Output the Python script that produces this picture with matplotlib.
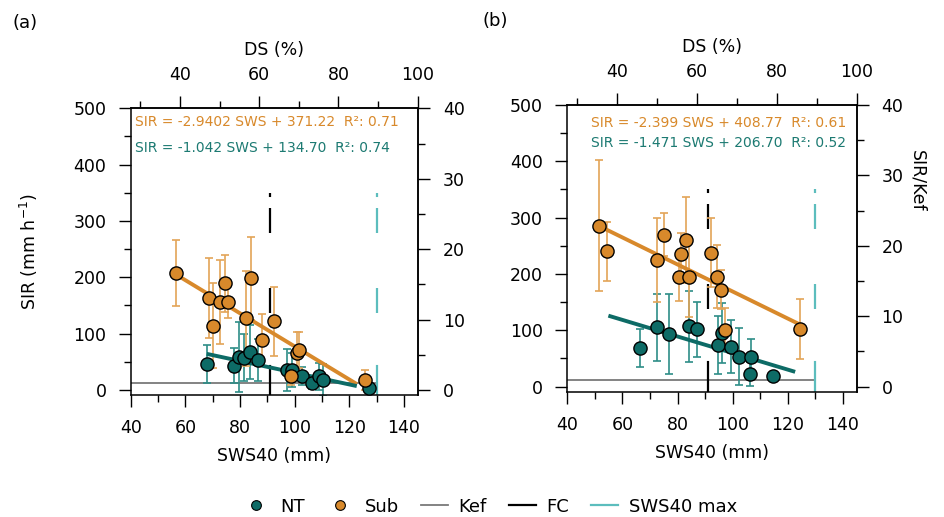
import matplotlib
matplotlib.use('Agg')
import matplotlib.pyplot as plt
from matplotlib.lines import Line2D
from matplotlib.ticker import MultipleLocator, FixedLocator

plt.rcParams['font.family'] = ['DejaVu Sans']
plt.rcParams['lines.scale_dashes'] = False

# ---- data ----
# panel (a)
a_sub_x = [56.5, 68.8, 70.2, 72.6, 74.6, 75.7, 82.1, 84.1, 87.9, 92.4, 100.7, 101.7, 98.7, 125.7]
a_sub_y = [208, 164, 114, 156, 189, 156, 127, 198, 89, 122, 65, 71, 24, 17]
a_sub_e = [59, 71, 75, 75, 50, 28, 85, 73, 46, 61, 38, 32, 15, 18]
a_nt_x = [67.8, 77.8, 79.7, 81.6, 83.6, 86.6, 97.0, 98.9, 102.6, 106.2, 109.0, 110.5, 127.3]
a_nt_y = [46, 43, 59, 57, 68, 53, 35, 35, 24, 12, 24, 18, 3]
a_nt_e = [34, 31, 62, 42, 48, 38, 37, 30, 16, 10, 24, 28, 0]
# panel (b)
b_sub_x = [51.5, 54.3, 72.6, 75.2, 80.7, 81.2, 83.2, 84.1, 92.2, 94.2, 95.8, 97.3, 124.5]
b_sub_y = [286, 240, 225, 270, 194, 236, 260, 194, 238, 195, 172, 101, 102]
b_sub_e = [116, 53, 74, 38, 42, 36, 76, 70, 61, 56, 35, 38, 53]
b_nt_x = [66.4, 72.6, 77.0, 84.2, 87.0, 94.6, 96.1, 99.4, 102.2, 106.6, 106.3, 114.6]
b_nt_y = [68, 105, 93, 107, 102, 74, 95, 71, 53, 52, 22, 19]
b_nt_e = [34, 59, 71, 63, 49, 52, 53, 47, 51, 32, 21, 0]

# fits: slope, intercept, r2, x range of the drawn line
a_fit_sub = (-2.9402, 371.22, 0.71, 56.5, 122.7)
a_fit_nt = (-1.042, 134.70, 0.74, 67.8, 122.7)
b_fit_sub = (-2.399, 408.77, 0.61, 51.5, 124.7)
b_fit_nt = (-1.471, 206.70, 0.52, 54.9, 122.7)

ds_ticks = [40, 60, 80, 100]
ds_minor = [30, 50, 70, 90]

KEF = 12.5
FC = 91
SWS_MAX = 130
DS_REF = 145.0
VLINE_TOP = 350

c_sub = '#d8892b'
c_sub_err = '#e3a458'
c_nt = '#0d6b66'
c_nt_err = '#2e8d87'
c_max = '#5cbdbd'
c_kef = '#7a7a7a'

fig = plt.figure(figsize=(9.44, 5.17), dpi=100)
ax_a = fig.add_axes([0.1385, 0.236, 0.304, 0.5545])
ax_b = fig.add_axes([0.601, 0.2424, 0.3064, 0.5545])

vdash = [2.9, 7.9, 18, 39.6, 18, 37.4, 30, 60]


def fmt_eq(fit, slope_txt):
    return 'SIR = %s SWS + %.2f  R\u00b2: %.2f' % (slope_txt, fit[1], fit[2])


def draw_panel(ax, sub_x, sub_y, sub_e, nt_x, nt_y, nt_e, fsub, fnt, s_sub, s_nt, txt_x, txt_ha, txt_y):
    ax.errorbar(nt_x, nt_y, yerr=nt_e, fmt='none', ecolor=c_nt_err, elinewidth=1.2,
                capsize=3, capthick=1.2, zorder=2)
    ax.errorbar(sub_x, sub_y, yerr=sub_e, fmt='none', ecolor=c_sub_err, elinewidth=1.2,
                capsize=3, capthick=1.2, zorder=2)
    for f, c in ((fsub, c_sub), (fnt, c_nt)):
        xs = [f[3], f[4]]
        ax.plot(xs, [f[0] * v + f[1] for v in xs], color=c, lw=2.8, zorder=3,
                solid_capstyle='butt')
    ax.plot(nt_x, nt_y, 'o', ms=9.5, mfc=c_nt, mec='k', mew=1.0, zorder=4)
    ax.plot(sub_x, sub_y, 'o', ms=9.5, mfc=c_sub, mec='k', mew=1.0, zorder=5)
    ax.plot([40, SWS_MAX], [KEF, KEF], color=c_kef, lw=1.3, zorder=1)
    ax.plot([FC, FC], [VLINE_TOP, -9], color='k', lw=1.6, dashes=vdash, zorder=1)
    ax.plot([SWS_MAX, SWS_MAX], [VLINE_TOP, -9], color=c_max, lw=1.6, dashes=vdash, zorder=1)

    ax.text(txt_x, txt_y[0], fmt_eq(fsub, s_sub), color=c_sub, fontsize=10,
            transform=ax.transAxes, ha=txt_ha, va='center')
    ax.text(txt_x, txt_y[1], fmt_eq(fnt, s_nt), color='#1c7a72', fontsize=10,
            transform=ax.transAxes, ha=txt_ha, va='center')

    ax.set_xlim(40, 145)
    ax.set_ylim(-9, 500)
    ax.xaxis.set_major_locator(MultipleLocator(20))
    ax.xaxis.set_minor_locator(MultipleLocator(10))
    ax.yaxis.set_major_locator(MultipleLocator(100))
    ax.yaxis.set_minor_locator(MultipleLocator(50))
    ax.tick_params(which='major', length=8.5, width=1, labelsize=12.5, pad=9)
    ax.tick_params(which='minor', length=5, width=1)
    ax.set_xlabel('SWS40 (mm)', fontsize=12.5, labelpad=7)
    for sp in ax.spines.values():
        sp.set_linewidth(1.1)

    top = ax.secondary_xaxis('top', functions=(lambda x: x / DS_REF * 100, lambda d: d * DS_REF / 100))
    top.xaxis.set_major_locator(FixedLocator(ds_ticks))
    top.xaxis.set_minor_locator(FixedLocator(ds_minor))
    top.tick_params(which='major', length=8.5, width=1, labelsize=12.5, pad=9)
    top.tick_params(which='minor', length=5, width=1)
    top.set_xlabel('DS (%)', fontsize=12.5, labelpad=8)
    top.spines['top'].set_linewidth(1.1)

    right = ax.secondary_yaxis('right', functions=(lambda y: y / KEF, lambda k: k * KEF))
    right.yaxis.set_major_locator(FixedLocator([0, 10, 20, 30, 40]))
    right.yaxis.set_minor_locator(FixedLocator([5, 15, 25, 35]))
    right.tick_params(which='major', length=8.5, width=1, labelsize=12.5, pad=9.5)
    right.tick_params(which='minor', length=5, width=1)
    right.spines['right'].set_linewidth(1.1)
    return right


draw_panel(ax_a, a_sub_x, a_sub_y, a_sub_e, a_nt_x, a_nt_y, a_nt_e, a_fit_sub, a_fit_nt,
           '-2.9402', '-1.042', 0.015, 'left', (0.951, 0.863))
ax_a.set_ylabel('SIR (mm h$^{-1}$)', fontsize=12.5, labelpad=24)

draw_panel(ax_b, b_sub_x, b_sub_y, b_sub_e, b_nt_x, b_nt_y, b_nt_e, b_fit_sub, b_fit_nt,
           '-2.399', '-1.471', 0.963, 'right', (0.936, 0.866))
fig.text(0.972, 0.65, 'SIR/Kef', fontsize=12.5, rotation=270, ha='center', va='center')

fig.text(0.013, 0.955, '(a)', fontsize=13, va='center')
fig.text(0.511, 0.96, '(b)', fontsize=13, va='center')

handles = [
    Line2D([], [], ls='none', marker='o', ms=7, mfc=c_nt, mec='k', mew=0.8),
    Line2D([], [], ls='none', marker='o', ms=7, mfc=c_sub, mec='k', mew=0.8),
    Line2D([], [], color=c_kef, lw=1.3),
    Line2D([], [], color='k', lw=1.6),
    Line2D([], [], color=c_max, lw=1.6),
]
fig.legend(handles, ['NT', 'Sub', 'Kef', 'FC', 'SWS40 max'], loc='center',
           bbox_to_anchor=(0.519, 0.02), ncol=5, frameon=False, fontsize=13,
           handlelength=1.5, handletextpad=0.6, columnspacing=1.2)

fig.savefig('out.png', dpi=100)
